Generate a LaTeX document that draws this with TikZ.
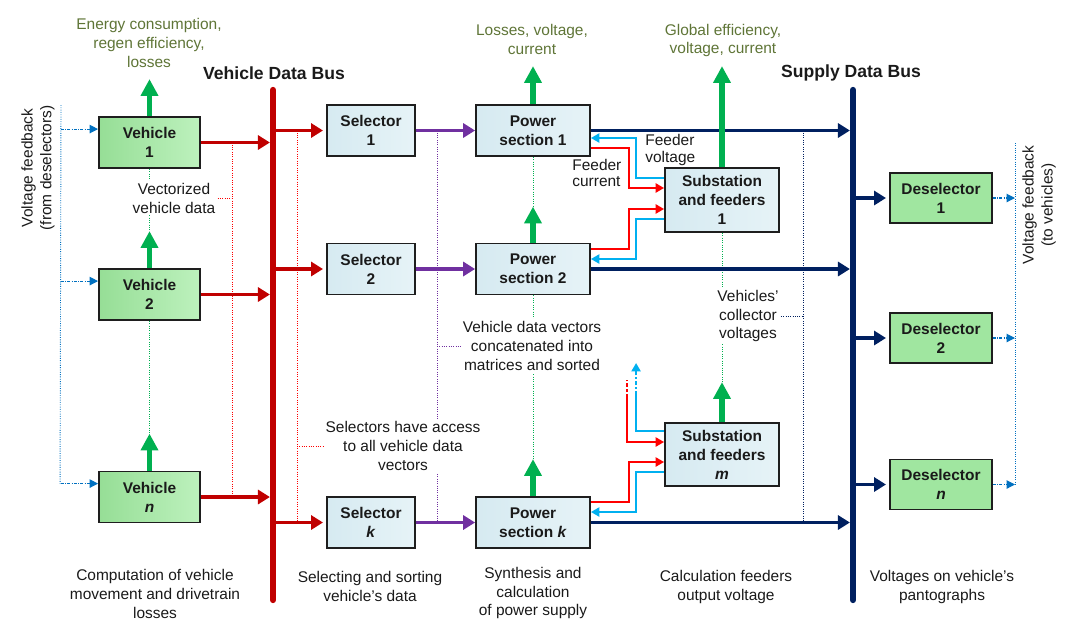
\documentclass[tikz,border=0pt]{standalone}
\usepackage{fontspec}
\setmainfont{Liberation Sans}
\usepackage{xcolor}
\usepackage{tikz}
\usetikzlibrary{calc,arrows.meta}
\definecolor{txt}{HTML}{1A1A1A}
\definecolor{olive}{HTML}{5F7537}
\definecolor{busred}{HTML}{C00000}
\definecolor{purp}{HTML}{7030A0}
\definecolor{navy}{HTML}{002060}
\definecolor{outgreen}{HTML}{00B050}
\definecolor{fred}{HTML}{FF0000}
\definecolor{fcyan}{HTML}{00B0F0}
\definecolor{fbblue}{HTML}{0070C0}
\definecolor{vehL}{HTML}{96DE96}
\definecolor{vehR}{HTML}{BDF1BD}
\definecolor{boxL}{HTML}{D6EAF1}
\definecolor{boxR}{HTML}{E6F3F7}
\definecolor{desfill}{HTML}{A0E6A0}
\definecolor{boxline}{HTML}{1E1E1E}
\tikzset{
  every node/.style={text=txt, font=\fontsize{11}{13.5}\selectfont},
  box/.style={draw=boxline, line width=1.3pt, align=center, inner sep=0pt,
    font=\bfseries\fontsize{11}{13.5}\selectfont},
  vehbox/.style={box, left color=vehL, right color=vehR, minimum width=2.525cm, minimum height=1.275cm},
  bluebox/.style={box, left color=boxL, right color=boxR, minimum height=1.275cm},
  desbox/.style={box, fill=desfill, minimum width=2.55cm, minimum height=1.25cm},
  bus/.style={line width=4.5pt, line cap=round},
  thick arr/.style={line width=2.6pt, -{Triangle[length=8.5pt,width=10pt]}, shorten >=2.2pt},
  redarr/.style={thick arr, draw=busred},
  purarr/.style={thick arr, draw=purp, shorten >=0pt},
  navyarr/.style={thick arr, draw=navy},
  outarr/.style={draw=outgreen, line width=3.6pt, -{Triangle[length=12pt,width=12pt]}},
  feed/.style={line width=1.4pt, -{Triangle[length=6pt,width=6.5pt]}},
  dotline/.style={line width=0.65pt, densely dotted},
  fbarr/.style={draw=fbblue, line width=0.8pt, dash pattern=on 2pt off 1pt on 0.6pt off 1pt,
    -{Triangle[length=6pt,width=6pt]}},
  note/.style={align=center, inner sep=1.5pt},
  outlbl/.style={note, text=olive},
  buslbl/.style={font=\bfseries\fontsize{12.5}{15}\selectfont},
}

\begin{document}
\begin{tikzpicture}[x=0.025cm,y=-0.025cm]
  \useasboundingbox (0,0) rectangle (1066,621);

  % blocks
  \node[vehbox] (v1) at (149.5,142.5) {Vehicle\\1};
  \node[vehbox] (v2) at (149.5,294.5) {Vehicle\\2};
  \node[vehbox] (vn) at (149.5,497) {Vehicle\\\textit{n}};
  \node[bluebox, minimum width=2.2cm] (s1) at (371,130.5) {Selector\\1};
  \node[bluebox, minimum width=2.2cm] (s2) at (371,269) {Selector\\2};
  \node[bluebox, minimum width=2.2cm] (sk) at (371,522.5) {Selector\\\textit{k}};
  \node[bluebox, minimum width=2.85cm] (p1) at (533,130.5) {Power\\section 1};
  \node[bluebox, minimum width=2.85cm] (p2) at (533,269) {Power\\section 2};
  \node[bluebox, minimum width=2.85cm] (pk) at (533,522.5) {Power\\section \textit{k}};
  \node[bluebox, minimum width=2.85cm, minimum height=1.6cm] (sub1) at (722,200) {Substation\\and feeders\\1};
  \node[bluebox, minimum width=2.85cm, minimum height=1.575cm] (subm) at (722,454.5) {Substation\\and feeders\\\textit{m}};
  \node[desbox] (d1) at (941,198) {Deselector\\1};
  \node[desbox] (d2) at (941,338) {Deselector\\2};
  \node[desbox] (dn) at (941,484.5) {Deselector\\\textit{n}};

  \coordinate (vbT) at (273,90);
  \coordinate (vbB) at (273,600);
  \coordinate (sbT) at (853,90);
  \coordinate (sbB) at (853,600);
  \coordinate (vcol) at (232,0);
  \coordinate (scol) at (297,0);
  \coordinate (pcol) at (437,0);
  \coordinate (ncol) at (803,0);
  \coordinate (fbL) at (61,105);
  \coordinate (fbR) at (1015,143);

  % outputs
  \draw[outarr] (v1.north) -- ++(0,-37);
  \draw[outarr] (v2.north) -- ++(0,-37) coordinate (v2tip);
  \draw[outarr] (vn.north) -- ++(0,-37) coordinate (vntip);
  \draw[outarr] (p1.north) -- ++(0,-38);
  \draw[outarr] (p2.north) -- ++(0,-36) coordinate (p2tip);
  \draw[outarr] (pk.north) -- ++(0,-37) coordinate (pktip);
  \draw[outarr] (subm.north) -- ++(0,-40) coordinate (submtip);

  % dotted helpers
  \draw[dotline, draw=outgreen] (v1.south) -- (v2tip);
  \draw[dotline, draw=outgreen] (v2.south) -- (vntip);
  \draw[dotline, draw=outgreen] (p1.south) -- (p2tip);
  \draw[dotline, draw=outgreen] (p2.south) -- (pktip);
  \draw[dotline, draw=outgreen] (sub1.south) -- (submtip);
  \draw[dotline, draw=fred] (v1.east -| vcol) -- (vn.east -| vcol);
  \draw[dotline, draw=fred] (s1.west -| scol) -- (sk.west -| scol);
  \draw[dotline, draw=purp] (s1.east -| pcol) -- (sk.east -| pcol);
  \draw[dotline, draw=navy] (p1.east -| ncol) -- (pk.east -| ncol);
  \draw[dotline, draw=fbblue] (fbL) -- ($(vn.north west)+(-38,13)$);
  \draw[dotline, draw=fbblue] (fbR) -- (dn.east -| fbR);

  \node[note, fill=white] (vecLbl) at (174,198) {Vectorized\\vehicle data};
  \node[note, fill=white] (selLbl) at (403,446) {Selectors have access\\to all vehicle data\\vectors};
  \node[note, fill=white] (vdvLbl) at (532,346) {Vehicle data vectors\\concatenated into\\matrices and sorted};
  \node[note, fill=white] (colLbl) at (748,316) {Vehicles'\\collector\\voltages};
  \draw[dotline, draw=fred] (vecLbl.east) -- (vecLbl.east -| vcol);
  \draw[dotline, draw=fred] (selLbl.west -| scol) -- (selLbl.west);
  \draw[dotline, draw=purp] (vdvLbl.west -| pcol) -- (vdvLbl.west);
  \draw[dotline, draw=navy] (colLbl.east) -- (colLbl.east -| ncol);

  % data buses
  \draw[bus, draw=busred] (vbT) -- (vbB);
  \draw[bus, draw=navy] (sbT) -- (sbB);
  \node[buslbl] (vbLbl) at (274,73) {Vehicle Data Bus};
  \node[buslbl] (sbLbl) at (851,73) {Supply Data Bus};

  \foreach \v in {v1,v2,vn}
    \draw[redarr] (\v.east) -- (\v.east -| vbT);
  \foreach \s/\p in {s1/p1,s2/p2,sk/pk} {
    \draw[redarr] (\s.west -| vbT) -- (\s.west);
    \draw[purarr] (\s.east) -- (\p.west);
    \draw[navyarr] (\p.east) -- (\p.east -| sbT);
  }
  \foreach \d in {d1,d2,dn} {
    \draw[navyarr] (\d.west -| sbT) -- (\d.west);
    \draw[fbarr] (\d.east) -- (\d.east -| fbR);
  }
  \foreach \v in {v1,v2,vn} {
    \coordinate (\v in) at ($(\v.north west)+(0,13)$);
    \draw[fbarr] (fbL |- \v in) -- (\v in);
  }
  \draw[outarr] (sub1.north) -- ++(0,-101);

  % feeders
  \draw[feed, draw=fcyan] ($(sub1.west)+(0,-22)$) -- ++(-28,0) |- ($(p1.east)+(0,7.5)$);
  \draw[feed, draw=fred] ($(p1.east)+(0,17.5)$) -- ++(38,0) |- ($(sub1.west)+(0,-12)$);
  \draw[feed, draw=fred] ($(p2.east)+(0,-20)$) -- ++(38,0) |- ($(sub1.west)+(0,9)$);
  \draw[feed, draw=fcyan] ($(sub1.west)+(0,19)$) -- ++(-28,0) |- ($(p2.east)+(0,-10)$);
  \draw[feed, draw=fred] ($(pk.east)+(0,-20.5)$) -- ++(38,0) |- ($(subm.west)+(0,7.5)$);
  \draw[feed, draw=fcyan] ($(subm.west)+(0,17.5)$) -- ++(-28,0) |- ($(pk.east)+(0,-10.5)$);
  \draw[feed, draw=fred] ($(subm.west)+(-37,-56.5)$) |- ($(subm.west)+(0,-12.5)$);
  \draw[line width=1.4pt, draw=fred, dash pattern=on 2.5pt off 1.5pt] ($(subm.west)+(-37,-56.5)$) -- ++(0,-18);
  \draw[line width=1.4pt, draw=fcyan] ($(subm.west)+(0,-23.5)$) -| ++(-28,-36) coordinate (cstub);
  \draw[feed, draw=fcyan, dash pattern=on 3pt off 1.5pt on 1pt off 1.5pt] (cstub) -- ++(0,-32);

  \node[note, align=left, anchor=west, font=\fontsize{11}{11.5}\selectfont] (fvLbl) at (643,150) {Feeder\\voltage};
  \node[note, align=left, anchor=west, font=\fontsize{11}{11.5}\selectfont] (fcLbl) at (570,173) {Feeder\\current};

  % outputs and stage captions
  \node[outlbl] (vOut) at (149,43) {Energy consumption,\\regen efficiency,\\losses};
  \node[outlbl] (pOut) at (532,39.5) {Losses, voltage,\\current};
  \node[outlbl] (sOut) at (723,40.5) {Global efficiency,\\voltage, current};
  \node[note, rotate=90] (fbLLbl) at (38,168) {Voltage feedback\\(from deselectors)};
  \node[note, rotate=90] (fbRLbl) at (1039,205) {Voltage feedback\\(to vehicles)};
  \node[note] (c1) at (155,594) {Computation of vehicle\\movement and drivetrain\\losses};
  \node[note] (c2) at (370,586.5) {Selecting and sorting\\vehicle's data};
  \node[note] (c3) at (533,593) {Synthesis and\\calculation\\of power supply};
  \node[note] (c4) at (726,586.5) {Calculation feeders\\output voltage};
  \node[note] (c5) at (942,586.5) {Voltages on vehicle's\\pantographs};
\end{tikzpicture}
\end{document}
